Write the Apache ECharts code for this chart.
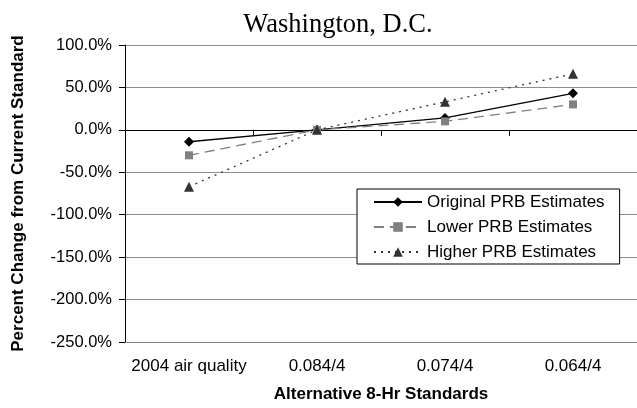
<!DOCTYPE html>
<html><head><meta charset="utf-8">
<script src="https://cdn.jsdelivr.net/npm/echarts@6/dist/echarts.min.js"></script>
<style>html,body{margin:0;padding:0;background:#fff;overflow:hidden}#c{width:637px;height:408px}</style>
</head><body><div id="c"></div>
<script>
var categories = ['2004 air quality', '0.084/4', '0.074/4', '0.064/4'];
var originalPRB = [-14, 0, 14, 43];
var lowerPRB = [-30, 0, 10, 30];
var higherPRB = [-67, 0, 33, 66];
var seriesNames = ['Original PRB Estimates', 'Lower PRB Estimates', 'Higher PRB Estimates'];

var chart = echarts.init(document.getElementById('c'));
var font = 'Liberation Sans, Arial, sans-serif';
chart.setOption({
  animation: false,
  backgroundColor: '#fff',
  title: {
    text: 'Washington, D.C.', left: 333, top: 7, textAlign: 'center',
    textStyle: {fontFamily: 'Liberation Serif, Times New Roman, serif', fontSize: 26.5, fontWeight: 'normal', color: '#000'}
  },
  grid: {left: 125, right: -8, top: 45, bottom: 64},
  legend: {
    orient: 'vertical', left: 357, top: 189,
    backgroundColor: '#fff', borderColor: '#000', borderWidth: 1,
    padding: [4, 15, 3, 16], itemGap: 7, itemWidth: 48, itemHeight: 12,
    textStyle: {fontFamily: font, fontSize: 17, color: '#000', lineHeight: 18},
    data: seriesNames
  },
  xAxis: [{
    type: 'category', data: categories, boundaryGap: true,
    axisLine: {show: true, onZero: false, lineStyle: {color: '#808080'}},
    axisTick: {show: false},
    axisLabel: {fontFamily: font, fontSize: 17, color: '#000', margin: 16, interval: 0, hideOverlap: false},
    name: 'Alternative 8-Hr Standards', nameLocation: 'middle', nameGap: 44,
    nameTextStyle: {fontFamily: font, fontSize: 17, fontWeight: 'bold', color: '#000'}
  }, {
    type: 'category', data: categories, boundaryGap: true, position: 'bottom',
    axisLine: {show: true, onZero: true, lineStyle: {color: '#000'}},
    axisTick: {show: true, alignWithLabel: false, interval: 0, length: 6, lineStyle: {color: '#000'}},
    axisLabel: {show: false}
  }],
  yAxis: {
    type: 'value', min: -250, max: 100, interval: 50,
    axisLine: {show: true, lineStyle: {color: '#000'}},
    axisTick: {show: true, length: 6, lineStyle: {color: '#000'}},
    splitLine: {lineStyle: {color: '#8c8c8c'}},
    axisLabel: {fontFamily: font, fontSize: 16.5, color: '#000', margin: 13,
      formatter: function (v) { return v.toFixed(1) + '%'; }},
    name: 'Percent Change from Current Standard', nameLocation: 'middle', nameGap: 98,
    nameTextStyle: {fontFamily: font, fontSize: 17, fontWeight: 'bold', color: '#000'}
  },
  series: [{
    name: seriesNames[0], type: 'line', data: originalPRB,
    symbol: 'diamond', symbolSize: 10,
    itemStyle: {color: '#000'}, lineStyle: {color: '#000', width: 1.3}
  }, {
    name: seriesNames[1], type: 'line', data: lowerPRB,
    symbol: 'rect', symbolSize: 8,
    itemStyle: {color: '#808080'}, lineStyle: {color: '#808080', width: 1.3, type: [10, 6]}
  }, {
    name: seriesNames[2], type: 'line', data: higherPRB,
    symbol: 'triangle', symbolSize: 10,
    itemStyle: {color: '#333'}, lineStyle: {color: '#333', width: 1.3, type: [2, 5]}
  }]
});
</script></body></html>
